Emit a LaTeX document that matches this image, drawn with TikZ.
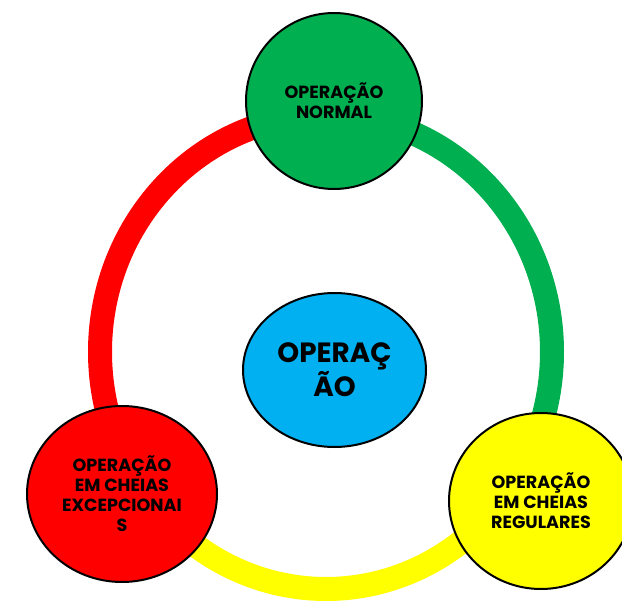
\documentclass[tikz,border=0pt]{standalone}
\usepackage{fontspec}
\setmainfont{Poppins}
\usetikzlibrary{shapes.geometric}
\definecolor{opgreen}{HTML}{00B050}
\definecolor{opred}{HTML}{FF0000}
\definecolor{opyellow}{HTML}{FFFF00}
\definecolor{opblue}{HTML}{00B0F0}

\begin{document}
\begin{tikzpicture} [scale = 1,
  phase/.style = {ellipse, draw = black, line width = 0.05cm, align = center, inner sep = 0pt,
    font = \fontsize{12.5}{14.2}\selectfont\bfseries},
  band/.style = {line width = 0.6cm}]
\useasboundingbox (0, 0) rectangle (15.55, 15.0);
\coordinate (ring) at (8.15, 6.2);
\draw[band, opred] (ring) ++(90:5.65 and 5.925) arc [start angle = 90, end angle = 214, x radius = 5.65, y radius = 5.925];
\draw[band, opgreen] (ring) ++(90:5.65 and 5.925) arc [start angle = 90, end angle = -34, x radius = 5.65, y radius = 5.925];
\draw[band, opyellow] (ring) ++(-34:5.65 and 5.925) arc [start angle = -34, end angle = -146, x radius = 5.65, y radius = 5.925];
\node[phase, fill = opgreen, minimum width = 4.4cm, minimum height = 4.4cm] (normal) at (8.35, 12.475) {OPERAÇÃO\\NORMAL};
\node[phase, fill = opred, minimum width = 4.75cm, minimum height = 4.4cm] (excep) at (3.05, 2.65) {OPERAÇÃO\\EM CHEIAS\\EXCEPCIONAI\\S};
\node[phase, fill = opyellow, minimum width = 4.6cm, minimum height = 4.4cm] (regul) at (13.525, 2.475) {OPERAÇÃO\\EM CHEIAS\\REGULARES};
\node[phase, fill = opblue, minimum width = 4.575cm, minimum height = 3.85cm,
  font = \fontsize{19.8}{19.9}\selectfont\bfseries] (oper) at (8.3625, 5.75) {OPERAÇ\\ÃO};
\end{tikzpicture}
\end{document}
